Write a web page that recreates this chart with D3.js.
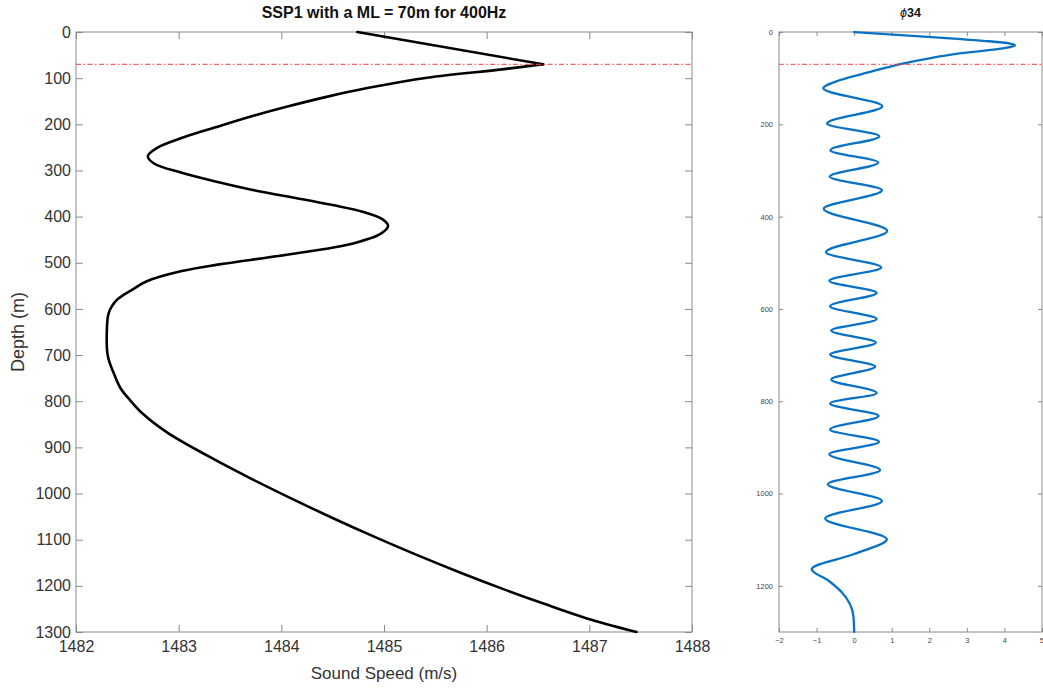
<!DOCTYPE html>
<html>
<head>
<meta charset="utf-8">
<script src="https://cdn.jsdelivr.net/npm/d3@7"></script>
<style>
  html, body { margin: 0; padding: 0; background: #fff; }
  svg { display: block; font-family: "Liberation Sans", Arial, Helvetica, sans-serif; }
</style>
</head>
<body>
<svg id="chart" width="1043" height="689"></svg>
<script>
// Sound speed profile (depth in m, speed in m/s)
const sspDepth = [0, 70, 81, 99, 121, 140, 162, 182, 207, 228, 251, 269, 285, 305, 325, 345, 360, 375, 390, 405, 420, 437, 458, 482, 504, 518, 540, 558, 580, 608, 651, 702, 746, 774, 796, 825, 868, 918, 966, 1011, 1054, 1095, 1134, 1171, 1206, 1239, 1270, 1300];
const sspSpeed = [1484.74, 1486.55, 1486.15, 1485.42, 1484.85, 1484.45, 1484.05, 1483.72, 1483.35, 1483.05, 1482.79, 1482.70, 1482.76, 1483.03, 1483.38, 1483.78, 1484.15, 1484.50, 1484.80, 1484.98, 1485.04, 1484.97, 1484.70, 1484.07, 1483.38, 1483.03, 1482.69, 1482.55, 1482.40, 1482.32, 1482.30, 1482.31, 1482.38, 1482.44, 1482.52, 1482.64, 1482.89, 1483.28, 1483.69, 1484.10, 1484.51, 1484.92, 1485.33, 1485.74, 1486.15, 1486.56, 1486.97, 1487.46];

// Mode 34 shape (depth in m, amplitude)
const modeDepth = [0, 5, 10, 15, 20, 25, 29, 35, 46, 57, 70, 86, 104, 122, 161, 198, 226, 256, 283, 313, 343, 383, 431, 477, 510, 539, 565, 594, 622, 647, 673, 699, 725, 753, 782, 805, 832, 861, 888, 915, 949, 980, 1016, 1054, 1099, 1131, 1164, 1189, 1214, 1240, 1265, 1300];
const modePhi = [0, 0.93, 1.85, 2.75, 3.6, 4.15, 4.28, 4.0, 2.85, 2.0, 1.2, 0.45, -0.37, -0.82, 0.75, -0.72, 0.67, -0.63, 0.64, -0.65, 0.74, -0.81, 0.88, -0.75, 0.72, -0.66, 0.60, -0.64, 0.60, -0.61, 0.58, -0.64, 0.56, -0.61, 0.60, -0.64, 0.65, -0.64, 0.66, -0.66, 0.69, -0.70, 0.74, -0.77, 0.87, 0.0, -1.13, -0.68, -0.33, -0.11, -0.02, 0];

// Tick values
const sspSpeedTicks = [1482, 1483, 1484, 1485, 1486, 1487, 1488];
const sspDepthTicks = [0, 100, 200, 300, 400, 500, 600, 700, 800, 900, 1000, 1100, 1200, 1300];
const modePhiTicks = [-2, -1, 0, 1, 2, 3, 4, 5];
const modeDepthTicks = [0, 200, 400, 600, 800, 1000, 1200];

// Mixed layer depth (m)
const mixedLayerDepth = 70;

const svg = d3.select("#chart");
const plotTop = 32, plotBottom = 632;

const xS = d3.scaleLinear().domain([1482, 1488]).range([76, 692]);
const yS = d3.scaleLinear().domain([0, 1300]).range([plotTop, plotBottom]);
const xM = d3.scaleLinear().domain([-2, 5]).range([779, 1042]);
const yM = d3.scaleLinear().domain([0, 1300]).range([plotTop, plotBottom]);

const axisColor = "#8a8a8a";

function styleAxis(g, fontSize, color) {
  g.select(".domain").remove();
  g.selectAll(".tick line").attr("stroke", axisColor).attr("stroke-width", 1);
  g.selectAll(".tick text").attr("fill", color).style("font-size", fontSize + "px").attr("font-family", null);
}

function drawPanel(x, y, xTicks, yTicks, fontSize, padX, padY, tickLen, color) {
  const x0 = x.range()[0], x1 = x.range()[1];
  const y0 = y.range()[0], y1 = y.range()[1];
  const g = svg.append("g");
  g.append("g").attr("class", "x-bottom").attr("transform", `translate(0,${y1})`)
    .call(d3.axisBottom(x).tickValues(xTicks).tickSize(-tickLen).tickSizeOuter(0).tickPadding(padX).tickFormat(d3.format("d")))
    .call(a => styleAxis(a, fontSize, color));
  g.append("g").attr("transform", `translate(0,${y0})`)
    .call(d3.axisTop(x).tickValues(xTicks).tickSize(-tickLen).tickSizeOuter(0).tickFormat(""))
    .call(a => styleAxis(a, fontSize, color));
  g.append("g").attr("transform", `translate(${x0},0)`)
    .call(d3.axisLeft(y).tickValues(yTicks).tickSize(-tickLen).tickSizeOuter(0).tickPadding(padY).tickFormat(d3.format("d")))
    .call(a => styleAxis(a, fontSize, color));
  g.append("g").attr("transform", `translate(${x1},0)`)
    .call(d3.axisRight(y).tickValues(yTicks).tickSize(-tickLen).tickSizeOuter(0).tickFormat(""))
    .call(a => styleAxis(a, fontSize, color));
  g.append("rect")
    .attr("x", x0).attr("y", y0).attr("width", x1 - x0).attr("height", y1 - y0)
    .attr("fill", "none").attr("stroke", axisColor).attr("stroke-width", 1);
  return g;
}

// Left panel: sound speed profile
drawPanel(xS, yS, sspSpeedTicks, sspDepthTicks, 16, 9, 5, 7, "#333");

const sspPts = sspDepth.map((d, i) => [sspSpeed[i], d]);
const mlIndex = sspDepth.indexOf(mixedLayerDepth);
// mixed layer: straight gradient down to the kink
svg.append("path")
  .datum(sspPts.slice(0, mlIndex + 1))
  .attr("fill", "none").attr("stroke", "#000").attr("stroke-width", 2.6)
  .attr("stroke-linecap", "round")
  .attr("d", d3.line().x(p => xS(p[0])).y(p => yS(p[1])));
// below the mixed layer: smooth profile
svg.append("path")
  .datum(sspPts.slice(mlIndex))
  .attr("fill", "none").attr("stroke", "#000").attr("stroke-width", 2.6)
  .attr("stroke-linecap", "round")
  .attr("d", d3.line().x(p => xS(p[0])).y(p => yS(p[1])).curve(d3.curveCatmullRom.alpha(0.5)));

svg.append("line")
  .attr("x1", xS.range()[0]).attr("x2", xS.range()[1])
  .attr("y1", yS(mixedLayerDepth)).attr("y2", yS(mixedLayerDepth))
  .attr("stroke", "#ff3b3b").attr("stroke-width", 1).attr("stroke-dasharray", "5,2.5,1.5,2.5");

svg.append("text")
  .attr("x", (xS.range()[0] + xS.range()[1]) / 2).attr("y", 18)
  .attr("text-anchor", "middle").style("font-size", "16px").style("font-weight", "bold")
  .attr("fill", "#111")
  .text("SSP1 with a ML = 70m for 400Hz");

svg.append("text")
  .attr("x", (xS.range()[0] + xS.range()[1]) / 2).attr("y", 679)
  .attr("text-anchor", "middle").style("font-size", "17px").attr("fill", "#333")
  .text("Sound Speed (m/s)");

svg.append("text")
  .attr("transform", `translate(24,${(plotTop + plotBottom) / 2}) rotate(-90)`)
  .attr("text-anchor", "middle").style("font-size", "18px").attr("fill", "#333")
  .text("Depth (m)");

// Right panel: mode shape
const modePanel = drawPanel(xM, yM, modePhiTicks, modeDepthTicks, 7.5, 6, 6, 4, "#444");
// keep the last tick label inside the drawing
modePanel.selectAll(".x-bottom .tick text").filter(d => d === d3.max(modePhiTicks)).attr("text-anchor", "end").attr("dx", "0.2em");

svg.append("path")
  .datum(modeDepth.map((d, i) => [modePhi[i], d]))
  .attr("fill", "none").attr("stroke", "#0a72c4").attr("stroke-width", 2.3)
  .attr("stroke-linecap", "round")
  .attr("d", d3.line().x(p => xM(p[0])).y(p => yM(p[1])).curve(d3.curveMonotoneY));

svg.append("line")
  .attr("x1", xM.range()[0]).attr("x2", xM.range()[1])
  .attr("y1", yM(mixedLayerDepth)).attr("y2", yM(mixedLayerDepth))
  .attr("stroke", "#ff3b3b").attr("stroke-width", 1).attr("stroke-dasharray", "5,2.5,1.5,2.5");

const t2 = svg.append("text")
  .attr("x", (xM.range()[0] + xM.range()[1]) / 2).attr("y", 17)
  .attr("text-anchor", "middle").style("font-size", "12.5px").attr("fill", "#111");
t2.append("tspan").style("font-style", "italic").text("ϕ");
t2.append("tspan").style("font-weight", "bold").text("34");
</script>
</body>
</html>
